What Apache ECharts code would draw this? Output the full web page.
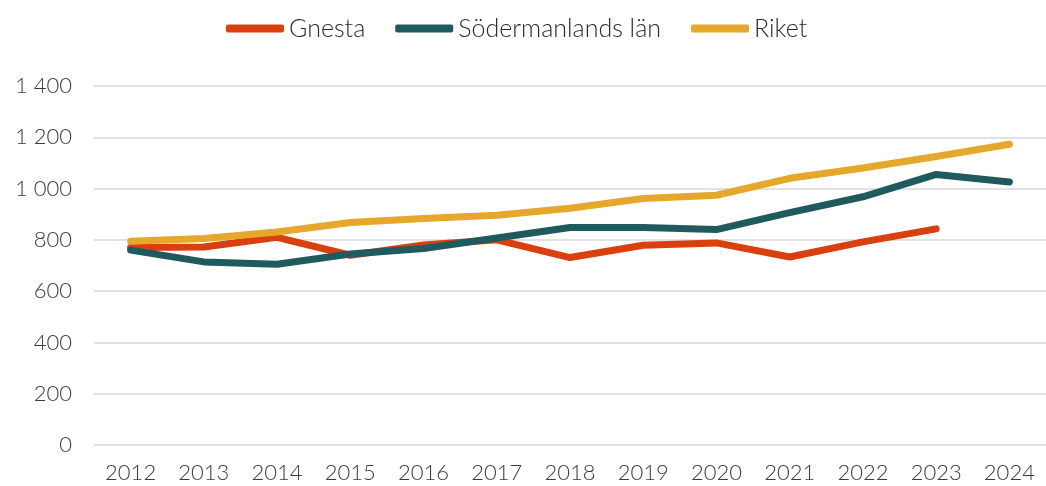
<!DOCTYPE html>
<html>
<head>
<meta charset="utf-8">
<title>Gnesta</title>
<script type="text/javascript" src="https://cdn.jsdelivr.net/npm/echarts@6/dist/echarts.min.js"></script>
<style>
	html, body { margin: 0; padding: 0; background: #fff; }
</style>
</head>
<body>

	<div id="main" style="width: 1046px; height: 486px;"></div>

	<script type="text/javascript">
		// år på x-axeln
		var years = [ '2012', '2013', '2014', '2015', '2016', '2017', '2018',
				'2019', '2020', '2021', '2022', '2023', '2024' ];

		// värden
		var gnesta = [ 770, 772, 810, 740, 780, 800, 731, 779, 788, 733, 792, 843, null ];
		var sodermanland = [ 760, 714, 705, 745, 766, 807, 848, 848, 840, 906, 968, 1055, 1026 ];
		var riket = [ 795, 805, 831, 868, 883, 896, 923, 961, 974, 1040, 1080, 1125, 1173 ];

		var seriesNames = [ 'Gnesta', 'Södermanlands län', 'Riket' ];
		var colors = [ '#d9400e', '#1f5a5f', '#e6a82a' ];

		var myChart = echarts.init(document.getElementById('main'));

		function makeLine(name, data, color) {
			return {
				name : name,
				type : 'line',
				data : data,
				color : color,
				showSymbol : false,
				symbol : 'none',
				lineStyle : {
					width : 7,
					cap : 'round',
					join : 'round'
				}
			};
		}

		var option = {
			animation : false,
			textStyle : {
				fontFamily : 'Lato',
				fontWeight : 300
			},
			legend : {
				top : 11,
				left : 221,
				itemWidth : 58,
				itemHeight : 8,
				itemGap : 30,
				icon : 'roundRect',
				textStyle : {
					fontSize : 25,
					color : '#2a2a2a',
					fontFamily : 'Lato',
					fontWeight : 300
				},
				data : seriesNames
			},
			grid : {
				left : 94,
				top : 86,
				width : 963,
				bottom : 41,
				containLabel : false
			},
			xAxis : {
				type : 'category',
				data : years,
				boundaryGap : true,
				axisLine : { show : false },
				axisTick : { show : false },
				axisLabel : {
					fontSize : 22,
					color : '#3a3a3a',
					fontWeight : 300,
					margin : 17
				}
			},
			yAxis : {
				type : 'value',
				min : 0,
				max : 1400,
				interval : 200,
				axisLine : { show : false },
				axisTick : { show : false },
				splitLine : {
					lineStyle : { color : '#d9d9d9', width : 1.5 }
				},
				axisLabel : {
					fontSize : 22,
					color : '#3a3a3a',
					fontWeight : 300,
					margin : 22,
					formatter : function(v) {
						return String(v).replace(/\B(?=(\d{3})+(?!\d))/g, ' ');
					}
				}
			},
			series : [ makeLine(seriesNames[0], gnesta, colors[0]),
					makeLine(seriesNames[1], sodermanland, colors[1]),
					makeLine(seriesNames[2], riket, colors[2]) ]
		};

		myChart.setOption(option);
	</script>

</body>
</html>
